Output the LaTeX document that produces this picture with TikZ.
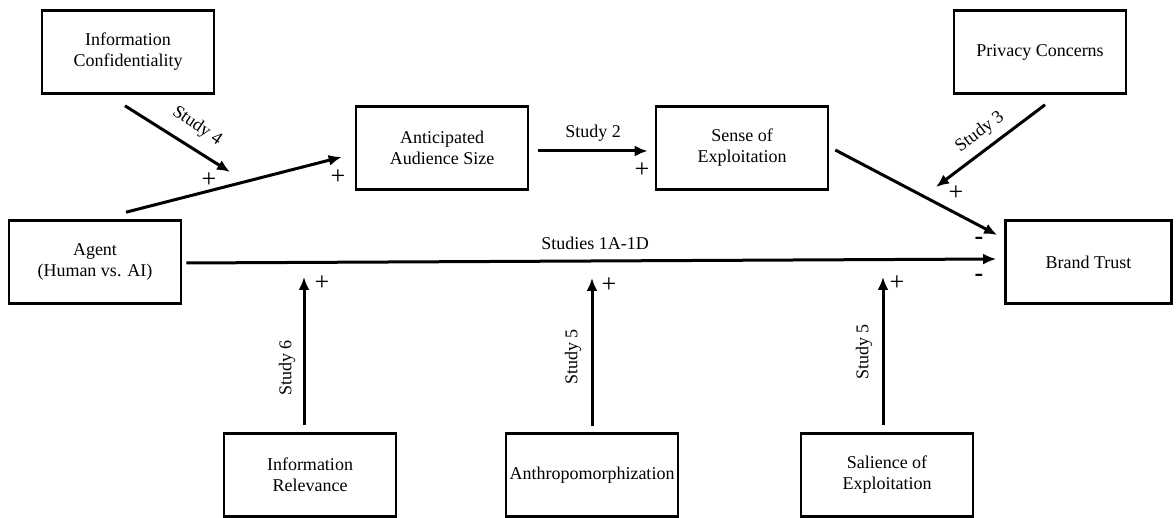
\documentclass[tikz,border=0pt]{standalone}
\usepackage{fontspec}
\setmainfont{Liberation Serif}
\usetikzlibrary{arrows.meta,positioning}

\begin{document}
\begin{tikzpicture}[x=1pt,y=-1pt,
	font=\fontsize{18}{21}\selectfont,
	box/.style={draw=black, line width=2.6pt, minimum width=172pt, minimum height=83pt, align=center, inner sep=1pt},
	arr/.style={-{Latex[length=13pt,width=11pt]}, line width=3pt, color=black},
	sign/.style={inner sep=0pt, font=\fontsize{26}{26}\selectfont}]
	\useasboundingbox (0,0) rectangle (1176,518);

	% Top row
		\node[box] (conf) at (128,52) {Information\\Confidentiality};
		\node[box] (aud) at (442,148) {Anticipated\\Audience Size};
		\node[box] (sense) at (742,148) {Sense of\\Exploitation};
		\node[box] (priv) at (1040,52) {Privacy Concerns};

	% Middle row
		\node[box] (agent) at (95,262) {Agent\\(Human vs. AI)};
		\node[box, minimum width=166pt] (brand) at (1088.5,262) {Brand Trust};

	% Bottom row
		\node[box] (rel) at (310,475) {Information\\Relevance};
		\node[box] (anthro) at (592,475) {Anthropomorphization};
		\node[box] (sal) at (887,475) {Salience of\\Exploitation};

	% Free ends of the moderator arrows
		\coordinate (confend) at (230,172);
		\coordinate (privend) at (936,187);
		\coordinate (relend) at (304,277);
		\coordinate (anthroend) at (592,278);
		\coordinate (salend) at (883,277);

	% Agent to audience size
		\draw[arr] ([xshift=31pt,yshift=7pt]agent.north) -- ([xshift=-13pt,yshift=-9pt]aud.west);
		\draw[arr] ([xshift=-3pt,yshift=-11pt]conf.south) -- (confend);
		\node[sign] (confplus) at (209,180) {+};
		\node[sign] (audplus) at (338,177) {+};
		\node[rotate=-34] (study4) at (197,126) {Study 4};

	% Audience size to exploitation
		\draw[arr] ([xshift=9pt,yshift=-3pt]aud.east) -- ([xshift=-7pt,yshift=-3pt]sense.west);
		\node (study2) at (593,133) {Study 2};
		\node[sign] (senseplus) at (642,170) {+};

	% Exploitation to brand trust
		\draw[arr] ([xshift=6pt,yshift=-2pt]sense.east) -- ([xshift=-7pt,yshift=27pt]brand.west);
		\draw[arr] ([xshift=5pt,yshift=-10pt]priv.south) -- (privend);
		\node[rotate=37] (study3) at (980,132) {Study 3};
		\node[sign] (privplus) at (956,193) {+};
		\node[sign] (minusa) at (979,241) {\textbf{-}};

	% Direct path
		\draw[arr] ([xshift=4pt,yshift=-1pt]agent.east) -- ([xshift=-8pt,yshift=3pt]brand.west);
		\node (study1) at (595,243) {Studies 1A-1D};
		\node[sign] (minusb) at (979,278) {\textbf{-}};

	% Moderators from below
		\draw[arr] ([xshift=-6pt,yshift=7pt]rel.north) -- (relend);
		\node[rotate=90] (study6) at (287,368) {Study 6};
		\node[sign] (relplus) at (322,283) {+};

		\draw[arr] ([yshift=6pt]anthro.north) -- (anthroend);
		\node[rotate=90] (study5a) at (573,357) {Study 5};
		\node[sign] (anthroplus) at (609,285) {+};

		\draw[arr] ([xshift=-4pt,yshift=7pt]sal.north) -- (salend);
		\node[rotate=90] (study5b) at (864,352) {Study 5};
		\node[sign] (salplus) at (897,283) {+};
\end{tikzpicture}
\end{document}
